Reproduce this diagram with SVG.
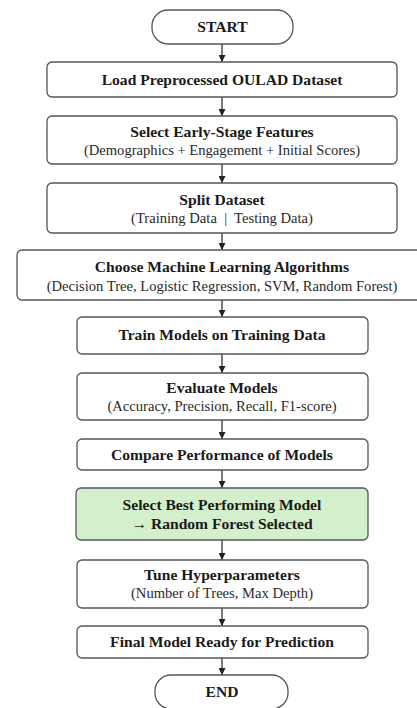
<svg xmlns="http://www.w3.org/2000/svg" width="417" height="708" viewBox="0 0 417 708">
<defs>
<marker id="ah" viewBox="0 0 10 10" refX="10" refY="5" markerWidth="7" markerHeight="7" markerUnits="userSpaceOnUse" orient="auto">
<path d="M0,0 L10,5 L0,10 z" fill="#222"/>
</marker>
<style>
.box{fill:#fff;stroke:#555;stroke-width:1.3}
.green{fill:#d3efcb;stroke:#555;stroke-width:1.3}
.t{font-family:"Liberation Serif","Times New Roman",serif;font-weight:bold;font-size:15.6px;fill:#1a1a1a;text-anchor:middle}
.s{font-family:"Liberation Serif","Times New Roman",serif;font-size:14.6px;fill:#2a2a2a;text-anchor:middle;white-space:pre}
.c line{stroke:#222;stroke-width:1.2;marker-end:url(#ah)}
</style>
</defs>
<rect width="417" height="708" fill="#fff"/>
<g class="c">
<line x1="222" y1="44" x2="222" y2="62"/>
<line x1="222" y1="97" x2="222" y2="116"/>
<line x1="222" y1="164" x2="222" y2="183"/>
<line x1="222" y1="233" x2="222" y2="250"/>
<line x1="222" y1="300" x2="222" y2="317"/>
<line x1="222" y1="354" x2="222" y2="373"/>
<line x1="222" y1="420" x2="222" y2="439"/>
<line x1="222" y1="470" x2="222" y2="488"/>
<line x1="222" y1="540" x2="222" y2="560"/>
<line x1="222" y1="608" x2="222" y2="626"/>
<line x1="222" y1="658" x2="222" y2="675"/>
</g>
<g id="start">
<rect class="box" x="152" y="10" width="141" height="34" rx="16"/>
<text class="t" x="222.5" y="32">START</text>
</g>
<g id="load">
<rect class="box" x="47" y="62" width="350" height="35" rx="5"/>
<text class="t" x="222" y="85">Load Preprocessed OULAD Dataset</text>
</g>
<g id="select">
<rect class="box" x="47" y="116" width="350" height="48" rx="5"/>
<text class="t" x="222" y="137">Select Early-Stage Features</text>
<text class="s" x="222" y="155">(Demographics + Engagement + Initial Scores)</text>
</g>
<g id="split">
<rect class="box" x="47" y="183" width="350" height="50" rx="5"/>
<text class="t" x="222" y="205">Split Dataset</text>
<text class="s" x="222" y="223">(Training Data  |  Testing Data)</text>
</g>
<g id="choose">
<rect class="box" x="17" y="250" width="405" height="50" rx="5"/>
<text class="t" x="222" y="272">Choose Machine Learning Algorithms</text>
<text class="s" x="222" y="291">(Decision Tree, Logistic Regression, SVM, Random Forest)</text>
</g>
<g id="train">
<rect class="box" x="77" y="317" width="291" height="37" rx="5"/>
<text class="t" x="222" y="340">Train Models on Training Data</text>
</g>
<g id="evaluate">
<rect class="box" x="77" y="373" width="291" height="47" rx="5"/>
<text class="t" x="222" y="393">Evaluate Models</text>
<text class="s" x="222" y="411">(Accuracy, Precision, Recall, F1-score)</text>
</g>
<g id="compare">
<rect class="box" x="77" y="439" width="291" height="31" rx="5"/>
<text class="t" x="222" y="460">Compare Performance of Models</text>
</g>
<g id="best">
<rect class="green" x="76" y="488" width="292" height="52" rx="5"/>
<text class="t" x="222" y="510">Select Best Performing Model</text>
<text class="t" x="222" y="529">→ Random Forest Selected</text>
</g>
<g id="tune">
<rect class="box" x="77" y="560" width="291" height="48" rx="5"/>
<text class="t" x="222" y="580">Tune Hyperparameters</text>
<text class="s" x="222" y="598">(Number of Trees, Max Depth)</text>
</g>
<g id="final">
<rect class="box" x="77" y="626" width="291" height="32" rx="5"/>
<text class="t" x="222" y="647">Final Model Ready for Prediction</text>
</g>
<g id="end">
<rect class="box" x="155" y="675" width="133" height="34" rx="16"/>
<text class="t" x="222" y="697">END</text>
</g>
</svg>
